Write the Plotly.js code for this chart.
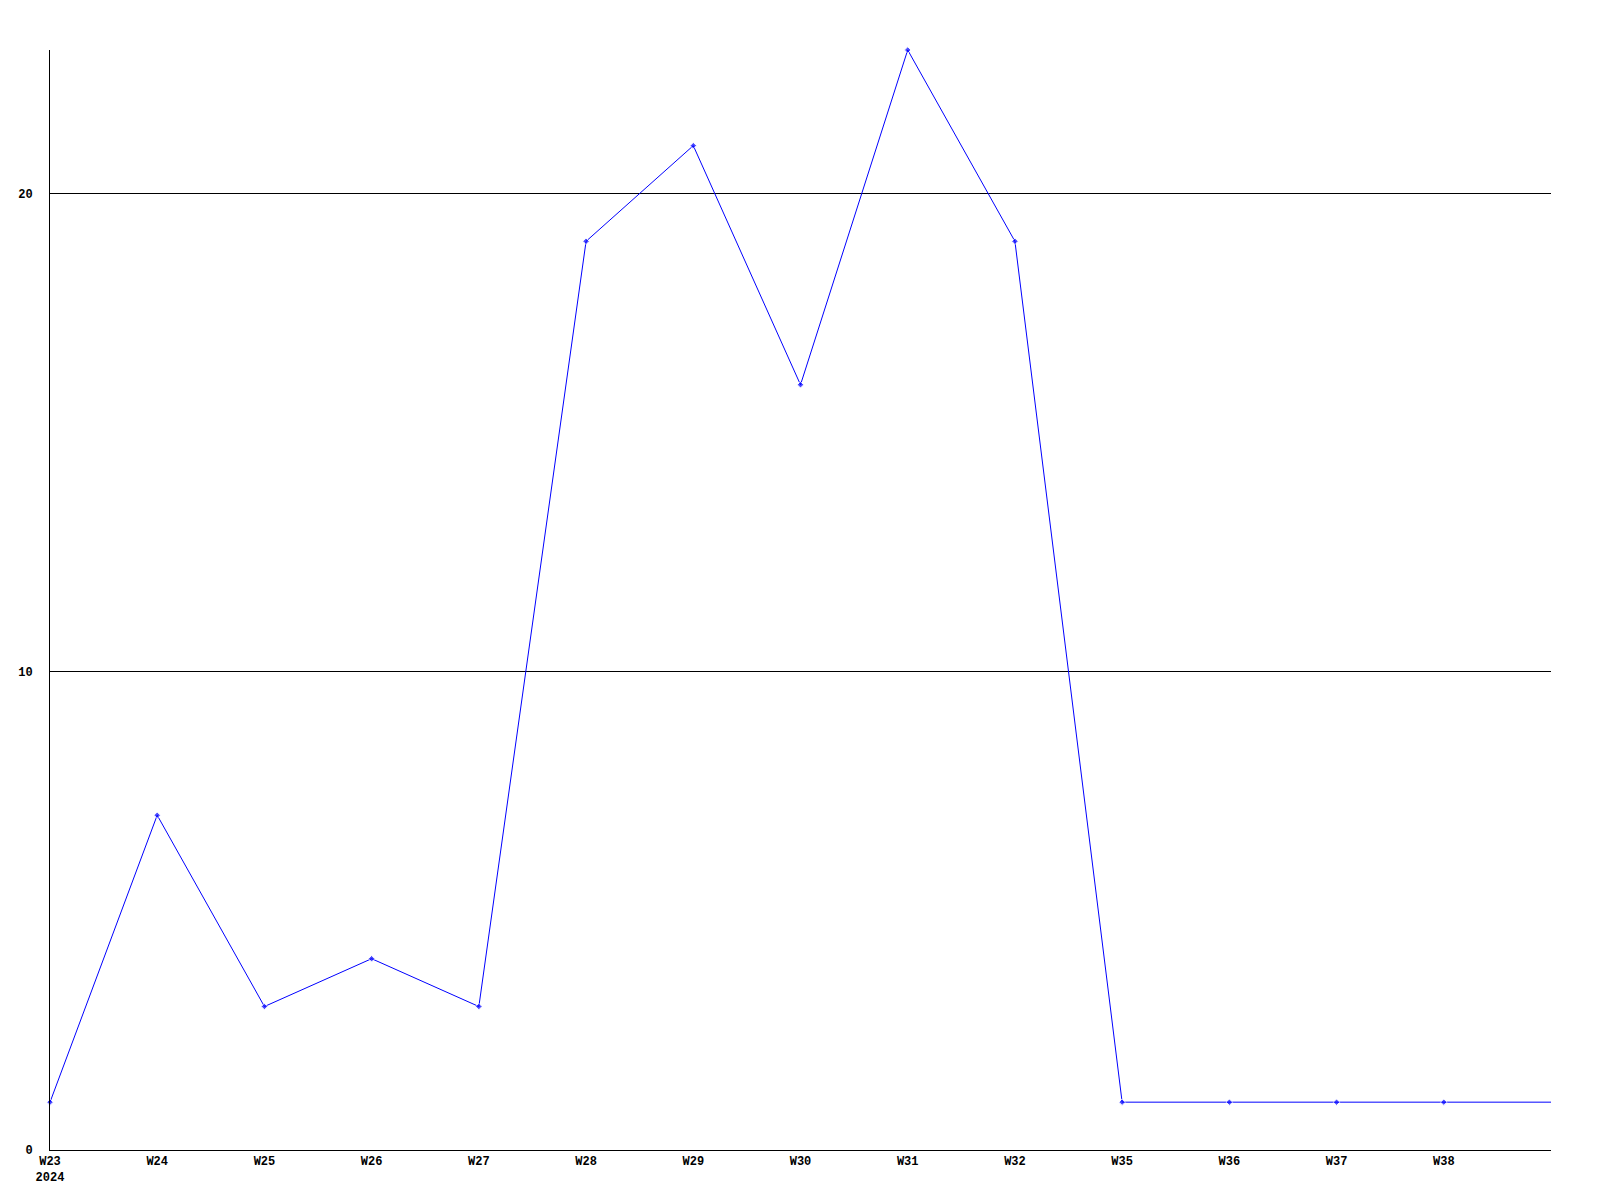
<!DOCTYPE html>
<html>
<head>
<meta charset="utf-8">
<script src="https://cdn.plot.ly/plotly-3.0.1.min.js"></script>
<style>html,body{margin:0;padding:0;background:#fff;}#chart{width:1600px;height:1200px;}</style>
</head>
<body>
<div id="chart"></div>
<script>
const weeks = ["W23<br>2024", "W24", "W25", "W26", "W27", "W28", "W29", "W30", "W31", "W32", "W35", "W36", "W37", "W38", ""];
const counts = [1, 7, 3, 4, 3, 19, 21, 16, 23, 19, 1, 1, 1, 1, 1];
const yTicks = [0, 10, 20];

const xIdx = weeks.map((_, i) => i);
const lastIdx = weeks.length - 1;
// the trailing segment runs to the plot edge without a visible point marker
const markerSizes = xIdx.map(i => (i < lastIdx ? 5 : 0));

const trace = {
  x: xIdx,
  y: counts,
  type: "scatter",
  mode: "lines+markers",
  line: {color: "#0000ff", width: 1},
  marker: {color: "#0000ff", size: markerSizes, symbol: "diamond"},
  cliponaxis: false,
  hoverinfo: "skip"
};

const tickFont = {family: "Liberation Mono, DejaVu Sans Mono, monospace", size: 12, color: "#000", weight: "bold"};

const layout = {
  width: 1600,
  height: 1200,
  margin: {l: 50, r: 49, t: 50, b: 50},
  paper_bgcolor: "#fff",
  plot_bgcolor: "#fff",
  showlegend: false,
  xaxis: {
    range: [0, lastIdx],
    tickmode: "array",
    tickvals: xIdx.slice(0, lastIdx),
    ticktext: weeks.slice(0, lastIdx),
    showgrid: false,
    zeroline: false,
    showline: true,
    linecolor: "#000",
    linewidth: 1,
    ticks: "",
    tickfont: tickFont,
    fixedrange: true
  },
  yaxis: {
    range: [0, 23],
    tickmode: "array",
    tickvals: yTicks,
    ticktext: yTicks.map(String),
    showgrid: true,
    gridcolor: "#000",
    gridwidth: 1,
    zeroline: false,
    showline: true,
    linecolor: "#000",
    linewidth: 1,
    ticks: "",
    ticklabelstandoff: 14,
    tickfont: tickFont,
    fixedrange: true
  }
};

Plotly.newPlot("chart", [trace], layout, {displayModeBar: false, staticPlot: true});
</script>
</body>
</html>
